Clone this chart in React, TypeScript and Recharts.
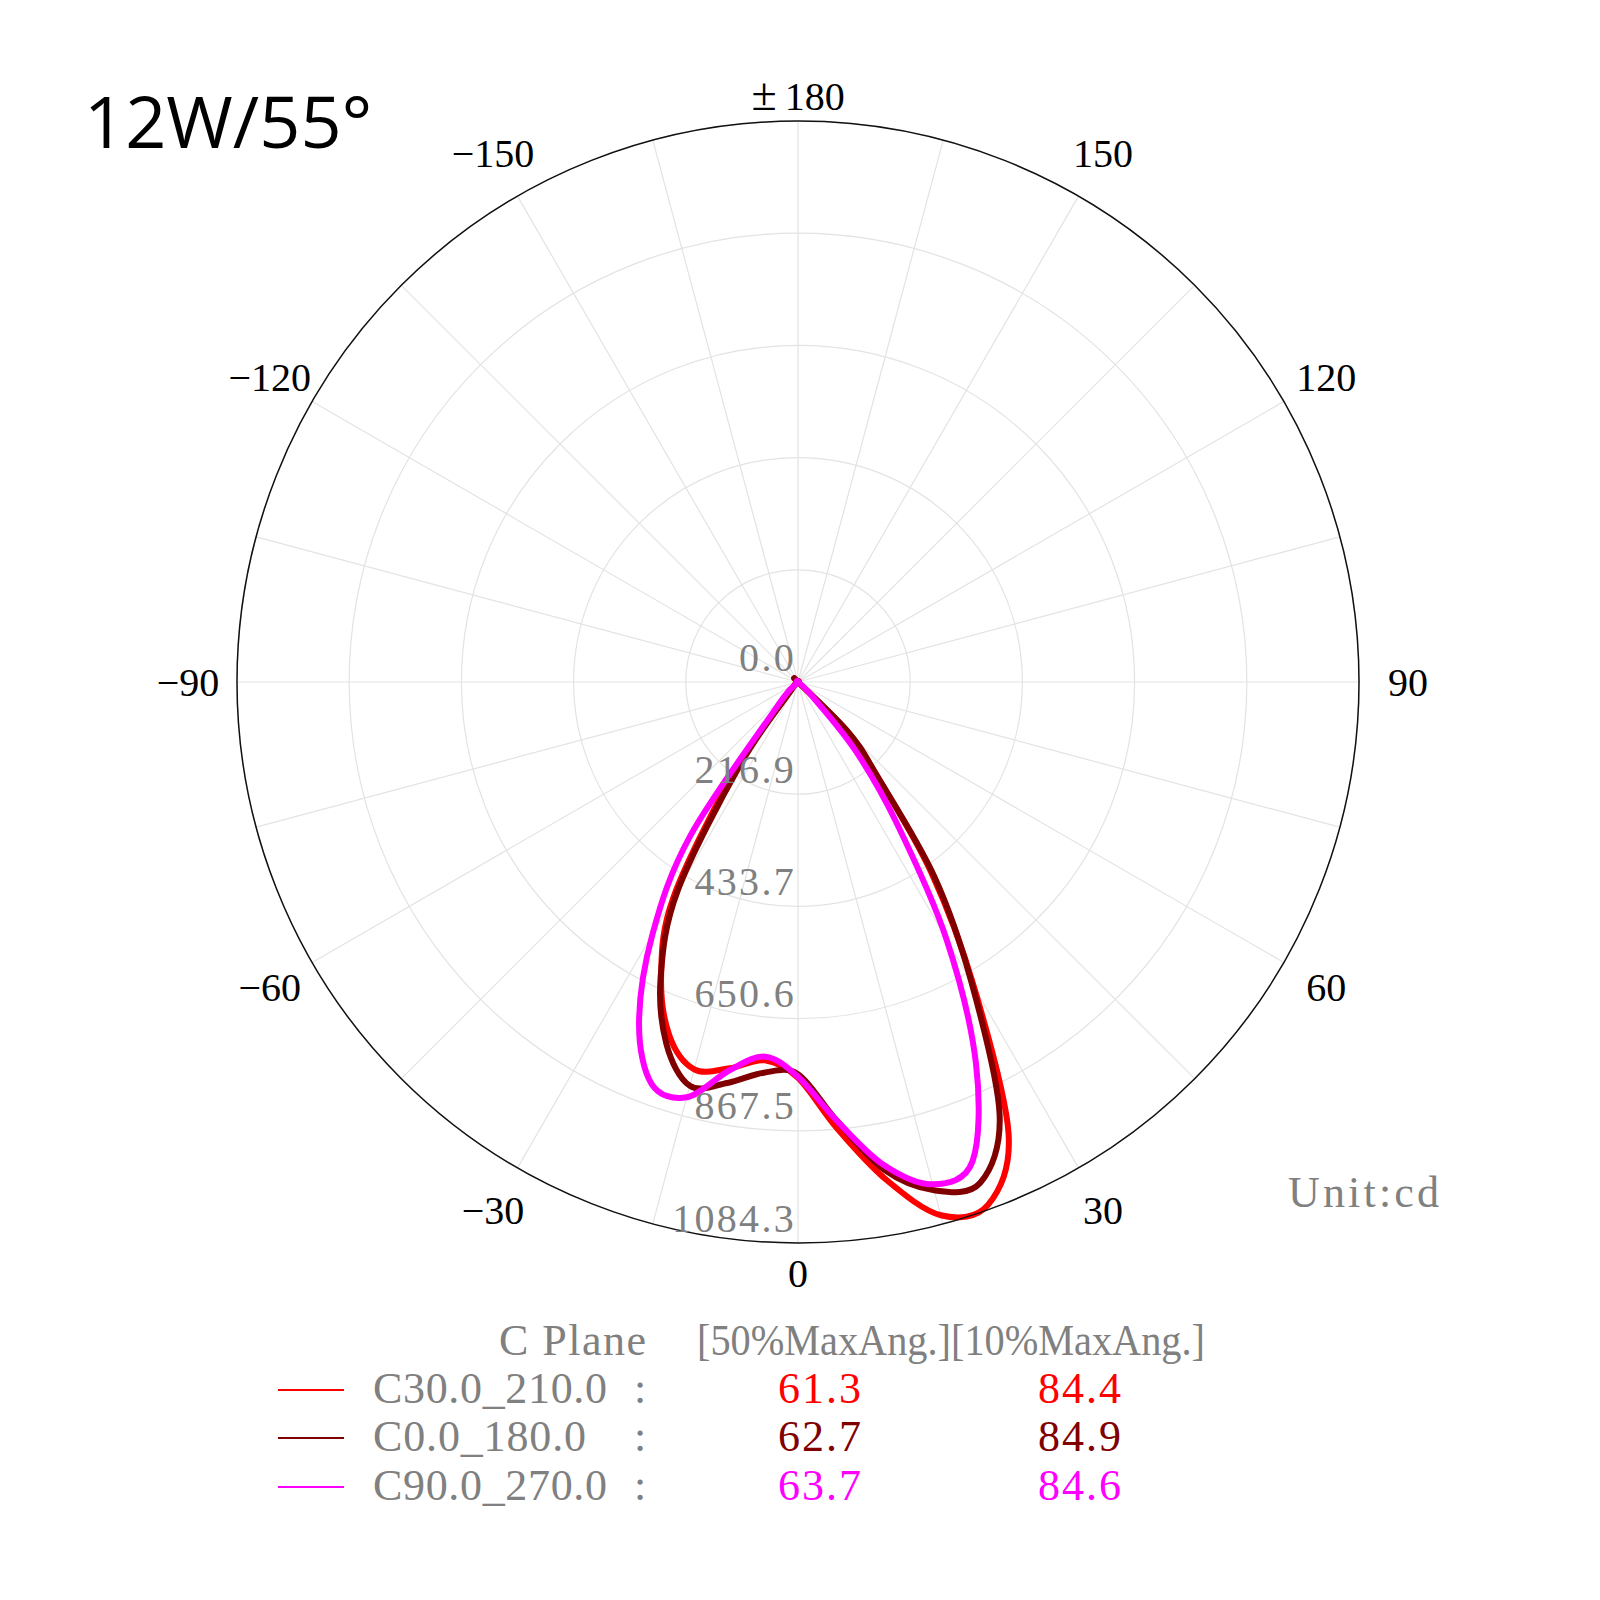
import React from "react";
import {
  RadarChart,
  Radar,
  PolarGrid,
  PolarAngleAxis,
  PolarRadiusAxis,
} from "recharts";

// Gamma angles (deg, 0 = straight down, + = right side) where the curves are lit.
// Everywhere else the three curves sit at the origin (0 cd).
const GAMMA = [-50, -45, -40, -35, -30, -25, -20, -15, -10, -5, 0, 5, 10, 15, 20, 25, 30, 35, 40, 45, 50];
const C30_210 = [0, 0, 29, 222, 483, 626, 727, 775, 758, 734, 765, 866, 976, 1067, 1075, 963, 680, 448, 238, 135, 0];
const C0_180 = [0, 0, 19, 193, 464, 628, 744, 808, 787, 758, 758, 850, 957, 1017, 1030, 922, 671, 460, 240, 139, 0];
const C90_270 = [0, 10, 66, 363, 562, 727, 827, 831, 762, 727, 763, 850, 947, 1005, 986, 814, 574, 332, 172, 39, 0];

const RADIAL_TICKS = [0, 216.9, 433.7, 650.6, 867.5, 1084.3];
const LABEL_ANGLES = [0, 30, 60, 90, 120, 150, 180, -150, -120, -90, -60, -30];
const LABEL_TEXT = ["0", "30", "60", "90", "120", "150", "±180", "−150", "−120", "−90", "−60", "−30"];
const ANGLE_TICKS = [0, 30, 60, 90, 120, 150, 180, 210, 240, 270, 300, 330];

const PLANES = ["C30.0_210.0", "C0.0_180.0", "C90.0_270.0"];
const HALF_MAX = ["61.3", "62.7", "63.7"];
const TENTH_MAX = ["84.4", "84.9", "84.6"];
const COLORS = ["#ff0000", "#800000", "#ff00ff"];

const CX = 798;
const CY = 682;
const R = 561;
const STEP = 5;

const toGamma = (pos: number) => (pos <= 180 ? pos : pos - 360);

// one row per 5° around the whole circle, starting at the bottom (gamma 0)
const rows = Array.from({ length: 360 / STEP }, (_, i) => {
  const pos = i * STEP;
  const k = GAMMA.indexOf(toGamma(pos));
  return {
    pos,
    c30: k >= 0 ? C30_210[k] : 0,
    c0: k >= 0 ? C0_180[k] : 0,
    c90: k >= 0 ? C90_270[k] : 0,
  };
});

// spokes every 15°, in recharts angle units (gamma 0 -> -90)
const SPOKES = Array.from({ length: 24 }, (_, i) => -90 + i * 15);

type Pt = { x: number; y: number };

// closed catmull-rom through the radar vertices
const smoothClosed = (pts: Pt[]) => {
  const n = pts.length;
  let d = `M${pts[0].x},${pts[0].y}`;
  for (let i = 0; i < n; i++) {
    const p0 = pts[(i - 1 + n) % n];
    const p1 = pts[i];
    const p2 = pts[(i + 1) % n];
    const p3 = pts[(i + 2) % n];
    const c1x = p1.x + (p2.x - p0.x) / 6;
    const c1y = p1.y + (p2.y - p0.y) / 6;
    const c2x = p2.x - (p3.x - p1.x) / 6;
    const c2y = p2.y - (p3.y - p1.y) / 6;
    d += `C${c1x},${c1y} ${c2x},${c2y} ${p2.x},${p2.y}`;
  }
  return d + "Z";
};

const smoothShape = (color: string) => (props: any) => (
  <path
    d={smoothClosed(props.points)}
    fill="none"
    stroke={color}
    strokeWidth={6}
    strokeLinejoin="round"
    strokeLinecap="round"
  />
);

const AngleTick = (props: any) => {
  const { x, y, payload } = props;
  const g = toGamma(Number(payload.value));
  const idx = LABEL_ANGLES.indexOf(g);
  if (idx < 0) return null;
  const dx = x - CX;
  const dy = y - CY;
  const len = Math.hypot(dx, dy) || 1;
  const r = g === 180 ? 586 : g === 0 ? 591 : 610;
  const tx = CX + (dx / len) * r;
  const ty = CY + (dy / len) * r + 13.5;
  const common = {
    textAnchor: "middle" as const,
    fontFamily: "'Liberation Serif', serif",
    fontSize: 40,
    fill: "#000",
  };
  if (g === 180) {
    return (
      <text x={tx} y={ty} {...common}>
        <tspan fontSize={46}>±</tspan>
        <tspan dx={8}>180</tspan>
      </text>
    );
  }
  return (
    <text x={tx} y={ty} {...common}>
      {LABEL_TEXT[idx]}
    </text>
  );
};

const RadiusTick = (props: any) => {
  const { x, y, payload } = props;
  return (
    <text
      x={x - 2}
      y={y - 11.5}
      textAnchor="end"
      fontFamily="'Liberation Serif', serif"
      fontSize={40}
      letterSpacing={2.3}
      fill="#808080"
    >
      {Number(payload.value).toFixed(1)}
    </text>
  );
};

const legendFont = "'Liberation Serif', serif";
const ROW_Y = [1403, 1451, 1500];
const NAME_W = [234, 213, 234];

export default function App() {
  return (
    <div style={{ position: "absolute", left: 0, top: 0, width: 1600, height: 1600, background: "#fff" }}>
      <RadarChart
        width={1600}
        height={1600}
        data={rows}
        cx={CX}
        cy={CY}
        outerRadius={R}
        startAngle={-90}
        endAngle={270}
        margin={{ top: 0, right: 0, bottom: 0, left: 0 }}
      >
        <PolarGrid
          gridType="circle"
          stroke="#e3e3e3"
          strokeWidth={1.2}
          polarAngles={SPOKES}
        />
        <PolarAngleAxis
          type="number"
          dataKey="pos"
          domain={[0, 360]}
          ticks={ANGLE_TICKS}
          tick={AngleTick}
          tickLine={false}
          tickSize={40}
          axisLineType="circle"
          axisLine={{ stroke: "#111", strokeWidth: 1.5 }}
        />
        <PolarRadiusAxis
          type="number"
          angle={-90}
          domain={[0, 1084.3]}
          ticks={RADIAL_TICKS}
          axisLine={false}
          tickLine={false}
          tick={RadiusTick}
        />
        <Radar dataKey="c30" stroke={COLORS[0]} strokeWidth={6} fill="none" isAnimationActive={false} shape={smoothShape(COLORS[0])} />
        <Radar dataKey="c0" stroke={COLORS[1]} strokeWidth={6} fill="none" isAnimationActive={false} shape={smoothShape(COLORS[1])} />
        <Radar dataKey="c90" stroke={COLORS[2]} strokeWidth={6} fill="none" isAnimationActive={false} shape={smoothShape(COLORS[2])} />
      </RadarChart>

      <svg
        width={1600}
        height={1600}
        style={{ position: "absolute", left: 0, top: 0, pointerEvents: "none" }}
      >
        <text x={84} y={148} fontFamily="'Open Sans', sans-serif" fontSize={72} fill="#000">
          12W/55°
        </text>

        <text x={1288} y={1207} fontFamily={legendFont} fontSize={44} fill="#808080" textLength={151} lengthAdjust="spacing">
          Unit:cd
        </text>

        <text x={499} y={1355} fontFamily={legendFont} fontSize={44} fill="#808080" textLength={147} lengthAdjust="spacing">
          C Plane
        </text>
        <text x={697} y={1355} fontFamily={legendFont} fontSize={44} fill="#808080" textLength={508} lengthAdjust="spacingAndGlyphs">
          [50%MaxAng.][10%MaxAng.]
        </text>

        {PLANES.map((p, i) => (
          <g key={p}>
            <line x1={278} x2={344} y1={ROW_Y[i] - 13} y2={ROW_Y[i] - 13} stroke={COLORS[i]} strokeWidth={2} />
            <text x={373} y={ROW_Y[i]} fontFamily={legendFont} fontSize={44} fill="#808080" textLength={NAME_W[i]} lengthAdjust="spacing">
              {p}
            </text>
            <text x={634} y={ROW_Y[i]} fontFamily={legendFont} fontSize={44} fill="#808080">
              :
            </text>
            <text x={778} y={ROW_Y[i]} fontFamily={legendFont} fontSize={44} fill={COLORS[i]} letterSpacing={2}>
              {HALF_MAX[i]}
            </text>
            <text x={1038} y={ROW_Y[i]} fontFamily={legendFont} fontSize={44} fill={COLORS[i]} letterSpacing={2}>
              {TENTH_MAX[i]}
            </text>
          </g>
        ))}
      </svg>
    </div>
  );
}
